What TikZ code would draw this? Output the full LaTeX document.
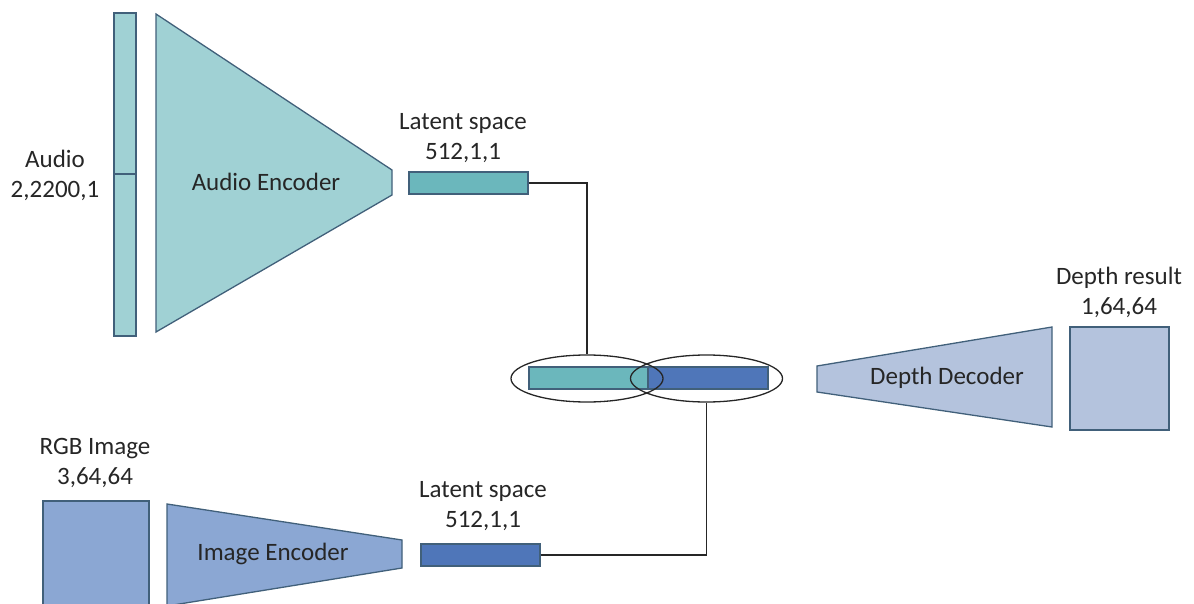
\documentclass[tikz,border=0pt]{standalone}
\usepackage{fontspec}
\setmainfont{Carlito}
\usetikzlibrary{shapes.geometric}
\definecolor{edge}{HTML}{41607A}
\definecolor{audiofill}{HTML}{A0D1D4}
\definecolor{tealbar}{HTML}{6BB7BC}
\definecolor{bluebar}{HTML}{4F76B9}
\definecolor{imgfill}{HTML}{8BA7D3}
\definecolor{depthfill}{HTML}{B4C3DD}
\definecolor{ink}{HTML}{262626}
\begin{document}
\begin{tikzpicture}[x=1pt,y=-1pt,
  block/.style={draw=edge,line width=1.3pt},
  bar/.style={block,inner sep=0,minimum height=22pt},
  lbl/.style={text=ink,font=\fontsize{25}{30}\selectfont,align=center,inner sep=0},
  link/.style={draw=ink,line width=1.3pt},
  ring/.style={draw=ink,line width=1.3pt,ellipse,minimum width=152pt,minimum height=47pt,inner sep=0}]
\useasboundingbox (0,0) rectangle (1194,604);
\clip (0,0) rectangle (1194,604);

% audio input column, split in two halves
\draw[block,fill=audiofill] (114,13) rectangle (136,174);
\draw[block,fill=audiofill] (114,174) rectangle (136,336);
\node[lbl] (audio) at (55,175) {Audio\\2,2200,1};

% audio encoder
\draw[block,fill=audiofill] (156,14) -- (392,170) -- (392,195) -- (156,332) -- cycle;
\node[lbl] (aenc) at (266,182) {Audio Encoder};

% audio latent vector
\node[lbl] (ltlbl) at (463,138) {Latent space\\512,1,1};
\node[bar,fill=tealbar,minimum width=119pt] (lt) at (468.5,183) {};

% image input
\draw[block,fill=imgfill] (43,501) rectangle (149,610);
\node[lbl] (rgb) at (95,463) {RGB Image\\3,64,64};

% image encoder
\draw[block,fill=imgfill] (167,504) -- (402,540) -- (402,568) -- (167,606) -- cycle;
\node[lbl] (ienc) at (273,554) {Image Encoder};

% image latent vector
\node[lbl] (lblbl) at (483,506) {Latent space\\512,1,1};
\node[bar,fill=bluebar,minimum width=119pt] (lb) at (480.5,555) {};

% concatenated latent vector
\node[bar,fill=tealbar,minimum width=119pt] (ct) at (588.5,378) {};
\node[bar,fill=bluebar,minimum width=120pt] (cb) at (708,378) {};
\node[ring] (el1) at (587,378.5) {};
\node[ring] (el2) at (706.5,378.5) {};

% connectors
\draw[link] (lt.east) -| (el1.north);
\draw[link] (lb.east) -| (el2.south);

% depth decoder
\draw[block,fill=depthfill] (817,366) -- (1052,327) -- (1052,427) -- (817,392) -- cycle;
\node[lbl] (ddec) at (947,378) {Depth Decoder};

% depth output
\draw[block,fill=depthfill] (1070,327) rectangle (1169,430);
\node[lbl] (dres) at (1119,292) {Depth result\\1,64,64};
\end{tikzpicture}
\end{document}
